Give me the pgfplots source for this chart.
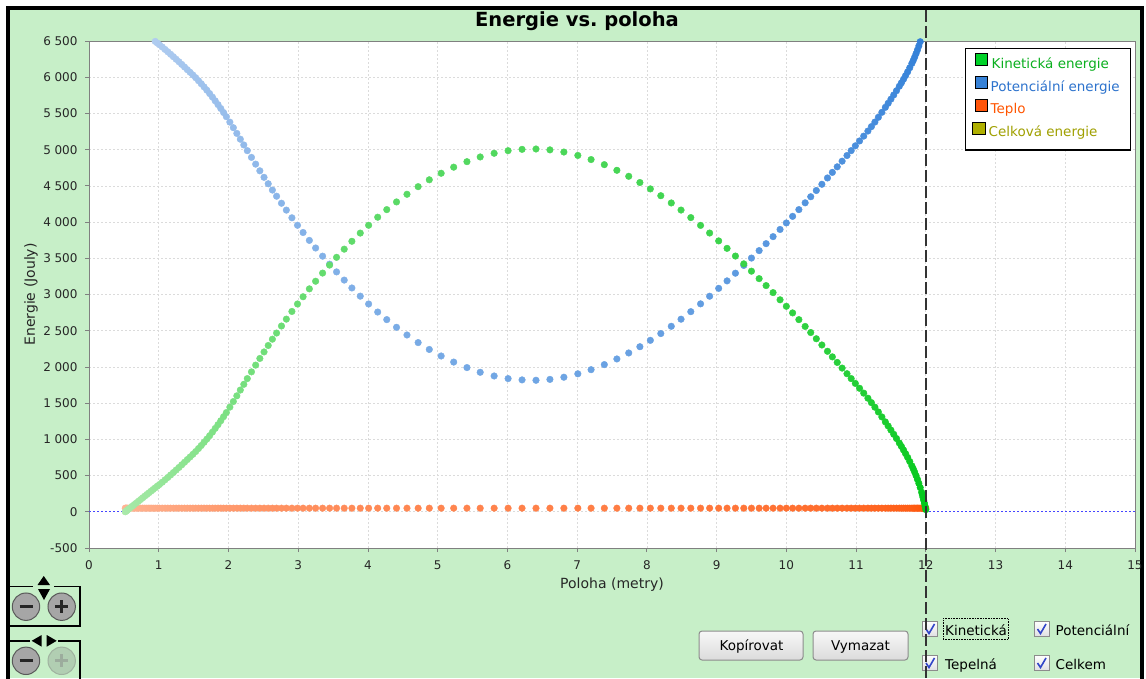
\documentclass[border=0pt]{standalone}
\usepackage{fontspec}
\setmainfont{DejaVu Sans}
\usepackage{pgfplots}
\pgfplotsset{compat=1.18}
\usepackage{pgfplotstable}
\definecolor{bggreen}{RGB}{199,239,200}
\definecolor{kintxt}{RGB}{10,175,30}
\definecolor{pottxt}{RGB}{45,115,205}
\definecolor{heattxt}{RGB}{255,85,0}
\definecolor{celktxt}{RGB}{160,160,0}
\definecolor{kinsw}{RGB}{0,210,40}
\definecolor{potsw}{RGB}{55,130,215}
\definecolor{heatsw}{RGB}{255,85,10}
\definecolor{celksw}{RGB}{175,175,0}
\definecolor{btnborder}{RGB}{140,140,140}
\definecolor{chkblue}{RGB}{50,70,200}
\definecolor{zeroline}{RGB}{70,70,255}
\pgfplotsset{
 colormap={kinmap}{rgb255=(172,234,172) rgb255=(0,200,25)},
 colormap={potmap}{rgb255=(192,214,243) rgb255=(45,125,215)},
 colormap={heatmap}{rgb255=(255,182,150) rgb255=(255,85,10)},
}
\pgfplotstableread{
x ke heat
0.52 0 50
0.53 8 50
0.54 15 50
0.55 23 50
0.57 38 50
0.59 54 50
0.62 77 50
0.65 100 50
0.68 123 50
0.71 146 50
0.74 169 50
0.77 193 50
0.80 216 50
0.83 239 50
0.86 262 50
0.89 285 50
0.92 308 50
0.95 331 50
0.98 354 50
1.01 376 50
1.05 408 50
1.09 441 50
1.13 474 50
1.17 508 50
1.21 542 50
1.25 577 50
1.29 612 50
1.33 648 50
1.37 684 50
1.41 721 50
1.45 757 50
1.49 794 50
1.53 832 50
1.57 873 50
1.61 915 50
1.65 959 50
1.69 1004 50
1.73 1051 50
1.77 1100 50
1.81 1151 50
1.85 1203 50
1.89 1257 50
1.93 1313 50
1.97 1370 50
2.02 1445 50
2.07 1522 50
2.12 1601 50
2.17 1681 50
2.22 1760 50
2.27 1839 50
2.33 1932 50
2.39 2025 50
2.45 2117 50
2.51 2207 50
2.57 2296 50
2.63 2383 50
2.69 2468 50
2.76 2565 50
2.83 2660 50
2.91 2766 50
2.99 2869 50
3.07 2969 50
3.16 3078 50
3.25 3183 50
3.35 3296 50
3.45 3406 50
3.55 3513 50
3.66 3626 50
3.77 3735 50
3.89 3848 50
4.01 3956 50
4.14 4067 50
4.27 4172 50
4.41 4278 50
4.56 4384 50
4.72 4489 50
4.88 4584 50
5.05 4674 50
5.23 4758 50
5.42 4834 50
5.61 4899 50
5.81 4950 50
6.01 4986 50
6.21 5004 50
6.41 5009 50
6.61 4997 50
6.81 4967 50
7.01 4920 50
7.20 4863 50
7.39 4793 50
7.57 4715 50
7.74 4632 50
7.90 4546 50
8.05 4458 50
8.20 4364 50
8.35 4264 50
8.49 4166 50
8.63 4062 50
8.77 3954 50
8.90 3849 50
9.03 3740 50
9.15 3637 50
9.27 3531 50
9.39 3423 50
9.50 3322 50
9.61 3219 50
9.71 3123 50
9.81 3026 50
9.91 2927 50
10.00 2837 50
10.09 2746 50
10.18 2653 50
10.27 2559 50
10.35 2475 50
10.43 2389 50
10.51 2303 50
10.59 2216 50
10.66 2139 50
10.73 2062 50
10.80 1984 50
10.87 1906 50
10.93 1839 50
10.99 1772 50
11.05 1705 50
11.11 1638 50
11.17 1568 50
11.22 1507 50
11.27 1444 50
11.32 1378 50
11.37 1310 50
11.42 1241 50
11.46 1185 50
11.50 1128 50
11.54 1070 50
11.58 1011 50
11.62 950 50
11.65 903 50
11.68 854 50
11.71 803 50
11.74 750 50
11.77 694 50
11.80 635 50
11.82 593 50
11.84 548 50
11.86 500 50
11.88 449 50
11.90 394 50
11.92 335 50
11.94 270 50
11.95 235 50
11.96 198 50
11.97 159 50
11.98 118 50
11.99 75 50
12.00 30 50
}\kintab
\pgfplotstableread{
x pe
0.95 6494
0.98 6471
1.01 6449
1.05 6417
1.09 6384
1.13 6351
1.17 6317
1.21 6283
1.25 6248
1.29 6213
1.33 6177
1.37 6141
1.41 6104
1.45 6068
1.49 6031
1.53 5993
1.57 5952
1.61 5910
1.65 5866
1.69 5821
1.73 5774
1.77 5725
1.81 5674
1.85 5622
1.89 5568
1.93 5512
1.97 5455
2.02 5380
2.07 5303
2.12 5224
2.17 5144
2.22 5065
2.27 4986
2.33 4893
2.39 4800
2.45 4708
2.51 4618
2.57 4529
2.63 4442
2.69 4357
2.76 4260
2.83 4165
2.91 4059
2.99 3956
3.07 3856
3.16 3747
3.25 3642
3.35 3529
3.45 3419
3.55 3312
3.66 3199
3.77 3090
3.89 2977
4.01 2869
4.14 2758
4.27 2653
4.41 2547
4.56 2441
4.72 2336
4.88 2241
5.05 2151
5.23 2067
5.42 1991
5.61 1926
5.81 1875
6.01 1839
6.21 1821
6.41 1816
6.61 1828
6.81 1858
7.01 1905
7.20 1962
7.39 2032
7.57 2110
7.74 2193
7.90 2279
8.05 2367
8.20 2461
8.35 2561
8.49 2659
8.63 2763
8.77 2871
8.90 2976
9.03 3085
9.15 3188
9.27 3294
9.39 3402
9.50 3503
9.61 3606
9.71 3702
9.81 3799
9.91 3898
10.00 3988
10.09 4079
10.18 4172
10.27 4266
10.35 4350
10.43 4436
10.51 4522
10.59 4609
10.66 4686
10.73 4763
10.80 4841
10.87 4919
10.93 4986
10.99 5053
11.05 5120
11.11 5187
11.17 5257
11.22 5318
11.27 5381
11.32 5447
11.37 5515
11.42 5584
11.46 5640
11.50 5697
11.54 5755
11.58 5814
11.62 5875
11.65 5922
11.68 5971
11.71 6022
11.74 6075
11.77 6131
11.80 6190
11.82 6232
11.84 6277
11.86 6325
11.88 6376
11.90 6431
11.92 6490
}\pottab
\begin{document}
\begin{tikzpicture}
\begin{scope}[x=1pt,y=-1pt,shift={(0pt,678pt)}]
\fill[white] (0,0) rectangle (1146,678);
\fill[bggreen] (8,8) rectangle (1142,678);
\draw[black, line width=4pt] (8,680) -- (8,8) -- (1142,8) -- (1142,680);
\end{scope}

\begin{axis}[
  at={(89pt,130pt)}, anchor=south west,
  scale only axis, width=1046pt, height=507pt,
  xmin=0, xmax=15, ymin=-500, ymax=6500,
  xtick={0,1,...,15}, ytick={-500,0,500,...,6500},
  tick pos=left, tick align=outside, major tick length=4pt,
  tick style={draw=black!50, line width=0.8pt},
  axis line style={draw=black!50, line width=0.8pt},
  grid=major,
  major grid style={draw=black!14, dash pattern=on 2pt off 2pt, line width=0.7pt},
  axis background/.style={fill=white},
  tick label style={font=\fontsize{12}{14}\selectfont, text=black!85},
  /pgf/number format/assume math mode=true,
  /pgf/number format/1000 sep={\hspace{3.5pt}},
  xticklabel style={yshift=-5pt},
  yticklabel style={xshift=-4pt},
  xlabel={Poloha (metry)},
  ylabel={Energie (Jouly)},
  label style={font=\fontsize{14}{16}\selectfont, text=black!85},
  xlabel style={at={(axis description cs:0.5,-0.072)}, anchor=center},
  ylabel style={at={(axis description cs:-0.0555,0.5)}, anchor=center},
  point meta min=0, point meta max=154,
  clip=false,
  scatter/use mapped color={draw=mapped color, fill=mapped color},
]
\addplot[scatter, only marks, mark=*, mark size=3.3pt, colormap name=heatmap, point meta=\coordindex] table[x=x,y=heat]{\kintab};
\addplot[scatter, only marks, mark=*, mark size=3.3pt, colormap name=potmap, point meta={\coordindex+17}] table[x=x,y=pe]{\pottab};
\addplot[scatter, only marks, mark=*, mark size=3.3pt, colormap name=kinmap, point meta=\coordindex] table[x=x,y=ke]{\kintab};
\draw[draw=zeroline, dash pattern=on 2pt off 2pt, line width=1pt] (axis cs:0,0) -- (axis cs:0.5,0);
\draw[draw=zeroline, dash pattern=on 2pt off 2pt, line width=1pt] (axis cs:12.05,0) -- (axis cs:15,0);
\end{axis}

\begin{scope}[x=1pt,y=-1pt,shift={(0pt,678pt)}]
% title
\node[font=\bfseries\fontsize{19.5}{22}\selectfont, anchor=base] at (577,27) {Energie vs.\ poloha};
% legend
\draw[black, line width=1.2pt, fill=white] (965.7,48.3) rectangle (1130.7,150);
\begin{scope}[every node/.style={font=\fontsize{13.5}{16}\selectfont, anchor=base west, inner sep=0pt}]
\draw[black, line width=0.8pt, fill=kinsw] (975,53.3) rectangle (987.3,65.7);
\node[text=kintxt] at (991.5,68.5) {Kinetická energie};
\draw[black, line width=0.8pt, fill=potsw] (975,76.3) rectangle (987.3,88.7);
\node[text=pottxt] at (990.5,91.2) {Potenciální energie};
\draw[black, line width=0.8pt, fill=heatsw] (975,99.1) rectangle (987.3,111.4);
\node[text=heattxt] at (990.5,113.9) {Teplo};
\draw[black, line width=0.8pt, fill=celksw] (972.5,122.1) rectangle (985,134.5);
\node[text=celktxt] at (988.5,136.6) {Celková energie};
\end{scope}
% zoom controls
\draw[black, line width=1.5pt] (33,586.7) -- (8.5,586.7) -- (8.5,626) -- (80,626) -- (80,586.7) -- (54,586.7);
\fill[black] (37.5,585) -- (50,585) -- (43.75,576) -- cycle;
\fill[black] (38,589) -- (50,589) -- (44,600) -- cycle;
\fill[gray!70] (26,606.7) circle (13.7);
\draw[black!65, line width=1pt] (26,606.7) circle (13.7);
\draw[black!85, line width=3pt] (19.5,606.7) -- (32.5,606.7);
\fill[gray!70] (61.7,606.7) circle (13.7);
\draw[black!65, line width=1pt] (61.7,606.7) circle (13.7);
\draw[black!85, line width=3pt] (55.2,606.7) -- (68.2,606.7) (61.7,600.2) -- (61.7,613.2);
\draw[black, line width=1.5pt] (30,640.8) -- (8.5,640.8) -- (8.5,680) (80,680) -- (80,640.8) -- (58,640.8);
\fill[black] (41.7,635) -- (41.7,646.7) -- (31.7,640.8) -- cycle;
\fill[black] (46.7,635) -- (46.7,646.7) -- (56.7,640.8) -- cycle;
\fill[gray!70] (26,660.8) circle (13.7);
\draw[black!65, line width=1pt] (26,660.8) circle (13.7);
\draw[black!85, line width=3pt] (19.5,660.8) -- (32.5,660.8);
\fill[gray!30!bggreen] (61.7,660.8) circle (13.7);
\draw[gray!55!bggreen, line width=1pt] (61.7,660.8) circle (13.7);
\draw[gray!60!bggreen, line width=3pt] (55.2,660.8) -- (68.2,660.8) (61.7,654.3) -- (61.7,667.3);
% buttons
\draw[btnborder, rounded corners=3pt, top color=white!97!black, bottom color=black!14, line width=1pt] (699,631) rectangle (803,660);
\node[font=\fontsize{13.5}{16}\selectfont, anchor=base] at (751.5,650.8) {Kopírovat};
\draw[btnborder, rounded corners=3pt, top color=white!97!black, bottom color=black!14, line width=1pt] (813,631) rectangle (908,660);
\node[font=\fontsize{13.5}{16}\selectfont, anchor=base] at (860.5,650.8) {Vymazat};
% check boxes
\foreach \cx/\cy in {922.5/621, 1034/621, 922.5/655, 1034/655}{
  \draw[black!45, top color=white, bottom color=blue!8!black!12, line width=0.8pt] (\cx,\cy) rectangle ++(15,15);
  \draw[chkblue, line width=1.6pt] (\cx+3.5,\cy+8) -- (\cx+6.5,\cy+12.5) -- (\cx+12,\cy+3);
}
\begin{scope}[every node/.style={font=\fontsize{13.5}{16}\selectfont, anchor=base west, inner sep=0pt}]
\node at (945,635.8) {Kinetická};
\node at (1055.5,635.8) {Potenciální};
\node at (945,669.6) {Tepelná};
\node at (1055.5,669.6) {Celkem};
\end{scope}
\draw[black, densely dotted, line width=0.6pt] (943,618.4) rectangle (1008,639.3);
% current position marker
\draw[black!80, line width=1.4pt, dash pattern=on 12pt off 4pt] (926,10) -- (926,678);
\end{scope}
\pgfresetboundingbox
\useasboundingbox (0pt,0pt) rectangle (1146pt,678pt);
\end{tikzpicture}
\end{document}
